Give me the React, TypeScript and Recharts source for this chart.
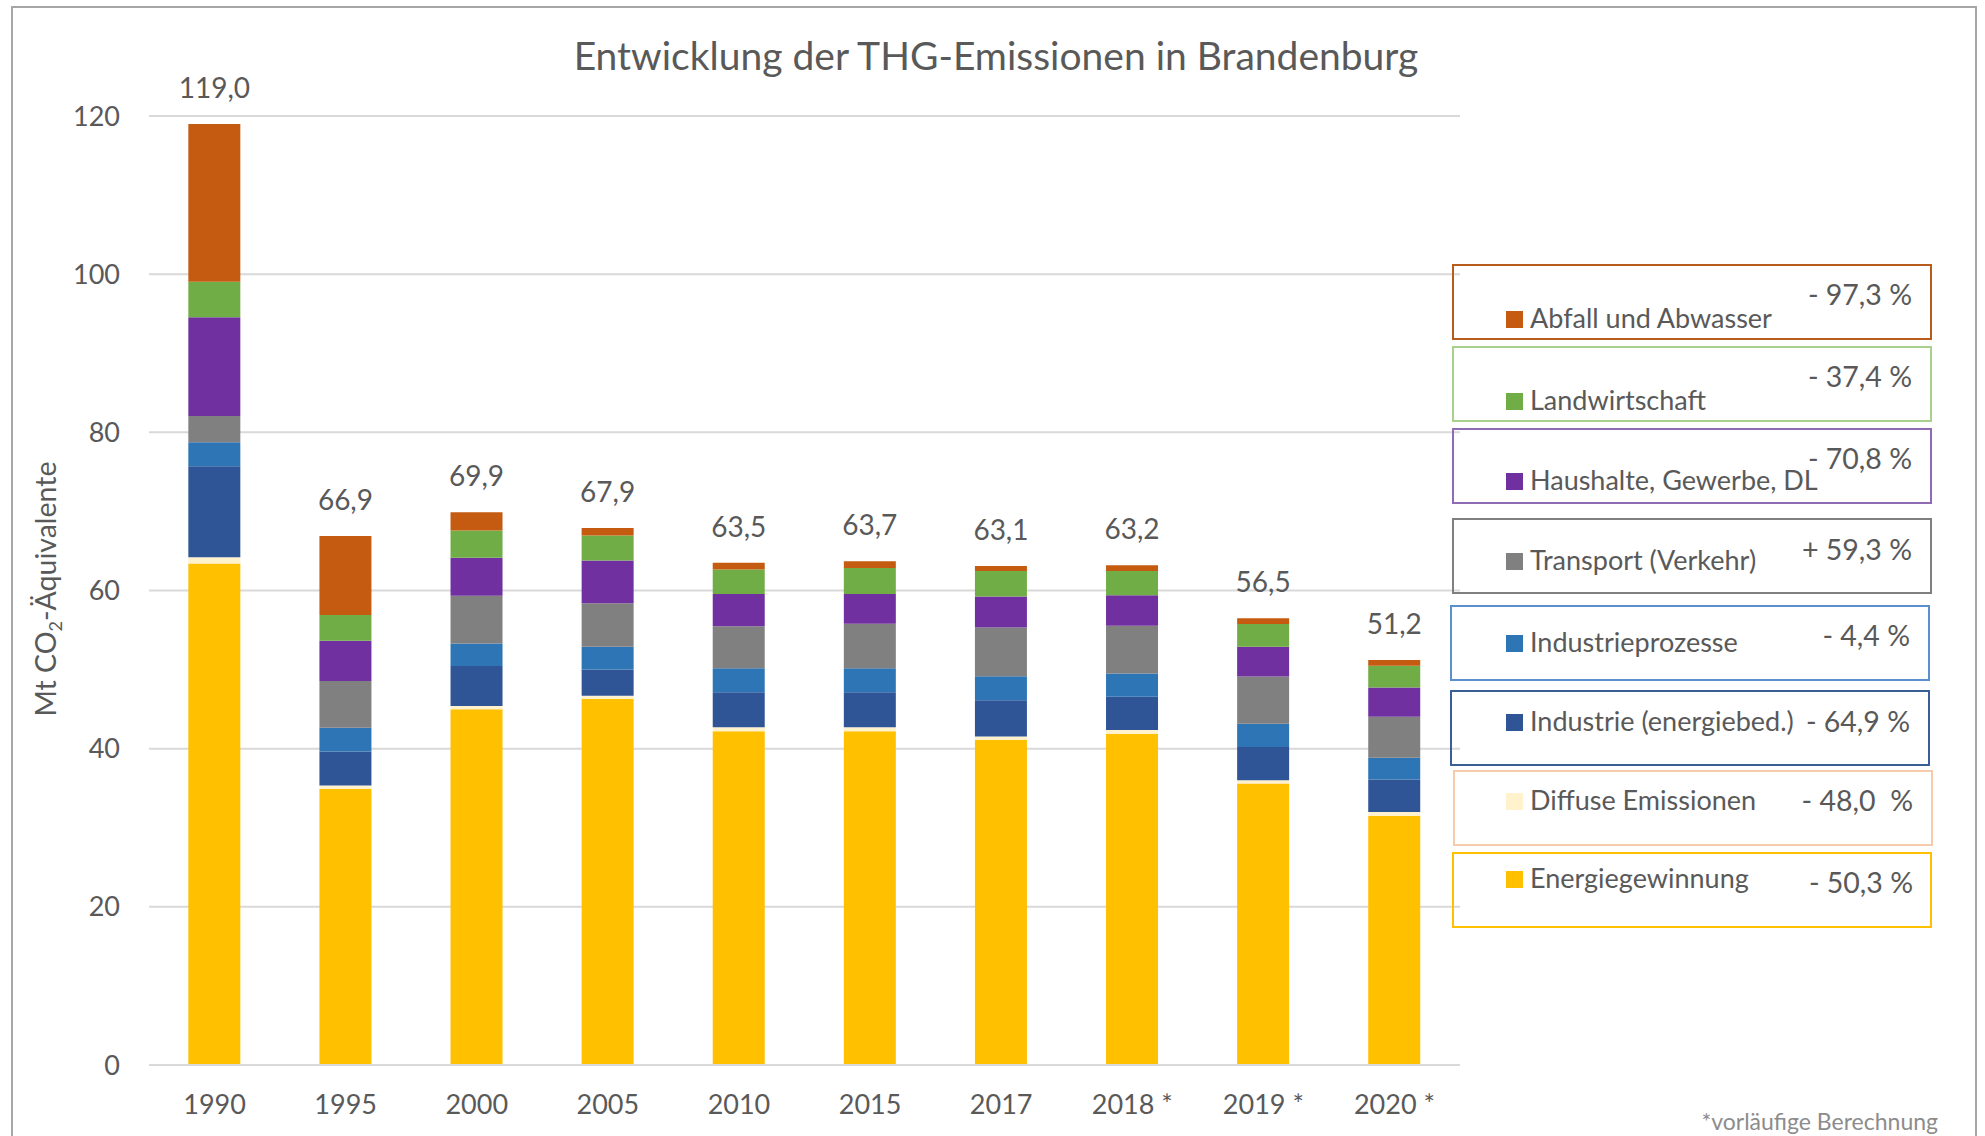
import React from 'react';
import { BarChart, Bar, XAxis, YAxis, CartesianGrid, LabelList } from 'recharts';

const categories = ['1990', '1995', '2000', '2005', '2010', '2015', '2017', '2018 *', '2019 *', '2020 *'];
const energie = [63.4, 34.9, 45.0, 46.3, 42.2, 42.2, 41.1, 41.9, 35.6, 31.5];
const diffuse = [0.8, 0.45, 0.4, 0.4, 0.5, 0.5, 0.44, 0.45, 0.4, 0.5];
const industrie = [11.5, 4.3, 5.05, 3.3, 4.43, 4.43, 4.59, 4.2, 4.2, 4.1];
const prozesse = [3.05, 3.0, 2.85, 2.9, 3.04, 3.04, 3.04, 2.95, 2.95, 2.75];
const transport = [3.3, 5.9, 6.05, 5.5, 5.31, 5.64, 6.14, 6.03, 5.97, 5.2];
const haushalte = [12.5, 5.1, 4.8, 5.4, 4.09, 3.76, 3.93, 3.87, 3.76, 3.7];
const landwirtschaft = [4.5, 3.25, 3.45, 3.15, 3.1, 3.27, 3.21, 3.05, 2.88, 2.75];
const abfall = [19.95, 10.0, 2.3, 0.95, 0.83, 0.86, 0.65, 0.75, 0.74, 0.7];
const totals = ['119,0', '66,9', '69,9', '67,9', '63,5', '63,7', '63,1', '63,2', '56,5', '51,2'];
const yTicks = [0, 20, 40, 60, 80, 100, 120];

// legend (top to bottom)
const legendKeys = ['abfall', 'landwirtschaft', 'haushalte', 'transport', 'prozesse', 'industrie', 'diffuse', 'energie'];
const legendNames = [
  'Abfall und Abwasser',
  'Landwirtschaft',
  'Haushalte, Gewerbe, DL',
  'Transport (Verkehr)',
  'Industrieprozesse',
  'Industrie (energiebed.)',
  'Diffuse Emissionen',
  'Energiegewinnung',
];
const legendChanges = ['- 97,3 %', '- 37,4 %', '- 70,8 %', '+ 59,3 %', '- 4,4 %', '- 64,9 %', '- 48,0  %', '- 50,3 %'];

// styles
const fillColors: Record<string, string> = {
  energie: '#FFC000',
  diffuse: '#FFF2CC',
  industrie: '#2F5597',
  prozesse: '#2E75B6',
  transport: '#808080',
  haushalte: '#7030A0',
  landwirtschaft: '#70AD47',
  abfall: '#C55A11',
};
const boxBorders = ['#B85C1E', '#A9D18E', '#8F6BB5', '#7F7F7F', '#5B8FD0', '#3A5F96', '#F8CBAD', '#FFC000'];
const boxTops = [265, 347, 429, 519, 606, 691, 771, 853];
const boxLefts = [1453, 1453, 1453, 1453, 1451, 1451, 1454, 1453];
const boxRights = [1931, 1931, 1931, 1931, 1929, 1929, 1932, 1931];
const labelBaselines = [328, 410, 490, 570, 652, 731, 810, 888];
const pctBaselines = [305, 387, 469, 560, 646, 732, 811, 893];
const pctRights = [1912, 1912, 1912, 1912, 1910, 1910, 1913, 1913];

const stackOrder = ['energie', 'diffuse', 'industrie', 'prozesse', 'transport', 'haushalte', 'landwirtschaft', 'abfall'];

const data = categories.map((c, i) => ({
  year: c,
  energie: energie[i],
  diffuse: diffuse[i],
  industrie: industrie[i],
  prozesse: prozesse[i],
  transport: transport[i],
  haushalte: haushalte[i],
  landwirtschaft: landwirtschaft[i],
  abfall: abfall[i],
  total: totals[i],
}));

const FONT = 'Lato, "Open Sans", sans-serif';
const TEXT = '#595959';

export default function App() {
  return (
    <div style={{ position: 'absolute', left: 0, top: 0, width: 1985, height: 1136, background: '#fff', overflow: 'hidden', fontFamily: FONT }}>
      <BarChart
        width={1985}
        height={1136}
        data={data}
        margin={{ top: 116, right: 525, bottom: 0, left: 0 }}
        barCategoryGap="30%"
      >
        <CartesianGrid vertical={false} stroke="#D9D9D9" strokeWidth={2} />
        <XAxis
          dataKey="year"
          height={71}
          tickLine={false}
          tickSize={0}
          tickMargin={30}
          axisLine={{ stroke: '#D9D9D9', strokeWidth: 2 }}
          tick={{ fill: TEXT, fontSize: 27, fontFamily: FONT }}
          interval={0}
        />
        <YAxis
          width={149}
          domain={[0, 120]}
          ticks={yTicks}
          axisLine={false}
          tickLine={false}
          tickSize={0}
          tickMargin={29}
          tick={{ fill: TEXT, fontSize: 27, fontFamily: FONT }}
        />
        {stackOrder.map((k, idx) => (
          <Bar key={k} dataKey={k} stackId="a" fill={fillColors[k]} isAnimationActive={false}>
            {idx === stackOrder.length - 1 ? (
              <LabelList dataKey="total" position="top" offset={26} fill={TEXT} fontSize={28} fontFamily={FONT} />
            ) : null}
          </Bar>
        ))}
      </BarChart>
      <svg
        width={1985}
        height={1136}
        style={{ position: 'absolute', left: 0, top: 0, pointerEvents: 'none' }}
        fontFamily={FONT}
      >
        <rect x={12} y={7} width={1964} height={1150} fill="none" stroke="#A6A6A6" strokeWidth={2} />
        <text x={996} y={70} textAnchor="middle" fontSize={39} fill={TEXT}>
          Entwicklung der THG-Emissionen in Brandenburg
        </text>
        <text transform="translate(56,589) rotate(-90)" textAnchor="middle" fontSize={28.5} fill={TEXT}>
          Mt CO<tspan fontSize={18} dy={6}>2</tspan>
          <tspan dy={-6}>-Äquivalente</tspan>
        </text>
        {legendNames.map((name, i) => (
          <g key={name}>
            <rect
              x={boxLefts[i]}
              y={boxTops[i]}
              width={boxRights[i] - boxLefts[i]}
              height={74}
              fill="none"
              stroke={boxBorders[i]}
              strokeWidth={2}
            />
            <rect x={1506} y={labelBaselines[i] - 17} width={17} height={17} fill={fillColors[legendKeys[i]]} />
            <text x={1530} y={labelBaselines[i]} fontSize={27} fill={TEXT}>
              {name}
            </text>
            <text x={pctRights[i]} y={pctBaselines[i]} textAnchor="end" fontSize={28.5} fill={TEXT} style={{ whiteSpace: 'pre' }}>
              {legendChanges[i]}
            </text>
          </g>
        ))}
        <text x={1938} y={1130} textAnchor="end" fontSize={23} fill="#8C8C8C">
          *vorläufige Berechnung
        </text>
      </svg>
    </div>
  );
}
